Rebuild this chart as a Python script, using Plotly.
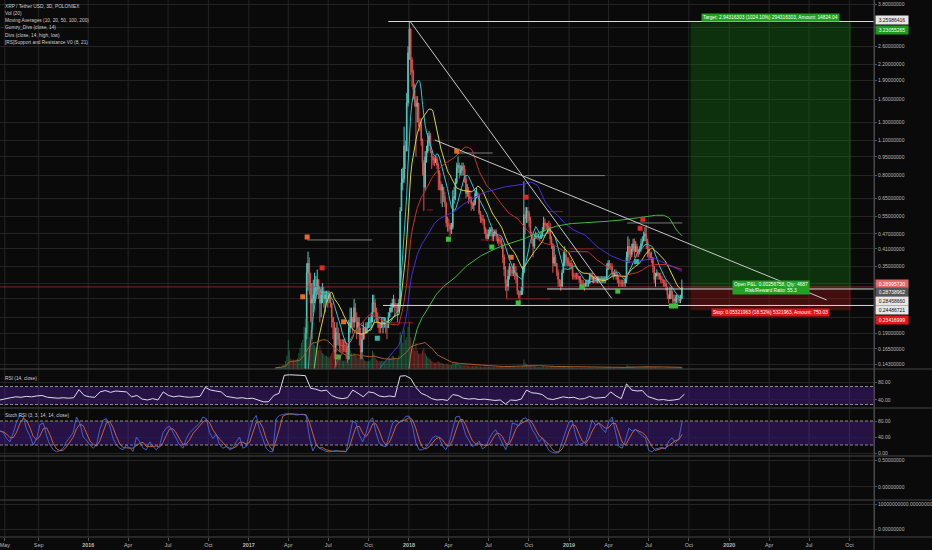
import numpy as np
import pandas as pd
import plotly.graph_objects as go

# ---------------- DATA ----------------
# closes before the visible period (3D bars, only feed the moving averages)
close_early = [0.0085,0.0087,0.0086,0.0083,0.0082,0.0080,0.0079,0.0078,0.0076,0.0075,
 0.0072,0.0070,0.0071,0.0074,0.0075,0.0073,0.0072,0.0070,0.0068,0.0066,
 0.0062,0.0060,0.0061,0.0063,0.0062,0.0060,0.0059,0.0061,0.0063,0.0066,
 0.0070,0.0068,0.0066,0.0065,0.0064,0.0067,0.0066,0.0065,0.0064,0.0064,
 0.0063,0.0062,0.0062,0.0061,0.0062,0.0063,0.0064,0.0064,0.0063,0.0062,
 0.0062,0.0061,0.0061,0.0062,0.0062,0.0063,0.0062,0.0061,0.0061,0.0062,
 0.0064,0.0066,0.0065,0.0070,0.0078,0.0085,0.0089,0.0094,0.0096,0.0090,
 0.0087,0.0085,0.0083,0.0082,0.0081,0.0080,0.0079,0.0078,0.0077,0.0078,
 0.0080,0.0079,0.0078,0.0077,0.0077,0.0076,0.0076,0.0075,0.0074,0.0073,
 0.0072,0.0071,0.0070,0.0068,0.0066,0.0065,0.0065,0.0064,0.0063,0.0064,
 0.0065,0.0066,0.0067,0.0068,0.0069,0.0070,0.0069,0.0068,0.0067,0.0066,
 0.0065,0.0065,0.0064,0.0064,0.0064,0.0063,0.0063,0.0064,0.0064,0.0064,0.0065,0.0066]

first_bar = '2017-03-02'
close = [0.0068,0.0072,0.0081,0.0095,0.0098,0.0105,0.0118,0.0125,0.018,0.026,
 0.055,0.035,0.033,0.032,0.034,0.033,0.035,0.037,0.045,0.058,
 0.065,0.078,0.115,0.19,0.33,0.36,0.30,0.25,0.26,0.27,
 0.28,0.29,0.31,0.28,0.25,0.27,0.28,0.26,0.27,0.27,
 0.26,0.27,0.25,0.22,0.21,0.16,0.19,0.19,0.18,0.17,
 0.17,0.17,0.17,0.17,0.16,0.15,0.20,0.21,0.22,0.21,
 0.24,0.22,0.20,0.21,0.19,0.16,0.18,0.20,0.19,0.20,
 0.20,0.21,0.21,0.22,0.25,0.25,0.23,0.22,0.21,0.20,
 0.20,0.21,0.21,0.21,0.20,0.20,0.22,0.23,0.24,0.25,
 0.25,0.24,0.24,0.24,0.25,0.58,0.75,0.78,1.05,1.00,
 1.55,2.45,3.05,2.30,2.05,1.75,1.60,1.50,1.55,1.30,
 1.28,1.10,0.90,0.72,0.95,1.00,1.10,1.15,1.00,0.95,
 0.92,0.90,0.93,0.88,0.82,0.74,0.70,0.72,0.66,0.62,
 0.52,0.51,0.51,0.49,0.50,0.65,0.66,0.75,0.86,0.88,
 0.82,0.84,0.87,0.85,0.78,0.68,0.70,0.66,0.65,0.62,
 0.61,0.62,0.68,0.68,0.67,0.57,0.54,0.54,0.53,0.49,
 0.47,0.45,0.47,0.48,0.49,0.46,0.47,0.48,0.46,0.45,
 0.44,0.44,0.42,0.38,0.34,0.30,0.29,0.32,0.35,0.33,
 0.33,0.35,0.33,0.32,0.28,0.27,0.27,0.28,0.33,0.56,
 0.54,0.58,0.57,0.53,0.47,0.45,0.42,0.45,0.46,0.46,
 0.46,0.45,0.46,0.48,0.52,0.51,0.51,0.50,0.50,0.45,
 0.43,0.36,0.38,0.36,0.33,0.31,0.30,0.29,0.33,0.36,
 0.39,0.37,0.36,0.36,0.35,0.35,0.32,0.32,0.32,0.32,
 0.32,0.31,0.30,0.30,0.30,0.29,0.30,0.30,0.30,0.32,
 0.32,0.31,0.315,0.31,0.305,0.31,0.315,0.31,0.305,0.31,
 0.315,0.31,0.34,0.36,0.35,0.35,0.33,0.32,0.33,0.32,
 0.31,0.30,0.30,0.30,0.30,0.30,0.31,0.38,0.42,0.39,
 0.39,0.41,0.43,0.40,0.42,0.40,0.40,0.41,0.43,0.44,
 0.46,0.47,0.44,0.41,0.39,0.38,0.38,0.35,0.31,0.32,
 0.33,0.32,0.32,0.31,0.31,0.30,0.30,0.29,0.27,0.26,
 0.28,0.27,0.26,0.255,0.26,0.265,0.26,0.255,0.26,0.2899572]

high = [0.0075,0.0075,0.0085,0.010,0.011,0.011,0.012,0.013,0.02,0.03,
 0.065,0.056,0.038,0.035,0.036,0.035,0.036,0.038,0.046,0.06,
 0.07,0.085,0.12,0.2,0.36,0.40,0.38,0.33,0.30,0.31,
 0.33,0.32,0.34,0.31,0.29,0.29,0.30,0.29,0.28,0.28,
 0.28,0.28,0.27,0.25,0.22,0.21,0.20,0.21,0.20,0.19,
 0.18,0.18,0.18,0.18,0.175,0.17,0.215,0.24,0.24,0.22,
 0.26,0.25,0.23,0.22,0.22,0.20,0.19,0.21,0.20,0.21,
 0.21,0.22,0.22,0.23,0.27,0.27,0.26,0.24,0.23,0.21,
 0.21,0.22,0.22,0.22,0.22,0.21,0.23,0.24,0.25,0.26,
 0.27,0.26,0.25,0.25,0.26,0.60,0.85,0.86,1.25,1.10,
 1.70,2.60,3.25986416,3.00,2.35,2.10,1.85,1.65,1.65,1.55,
 1.35,1.35,1.12,0.92,1.00,1.05,1.18,1.20,1.18,1.00,
 0.96,0.95,0.96,0.95,0.90,0.84,0.76,0.74,0.72,0.69,
 0.63,0.55,0.54,0.52,0.52,0.70,0.72,0.78,0.90,0.95,
 0.90,0.88,0.90,0.90,0.88,0.80,0.74,0.72,0.70,0.66,
 0.63,0.64,0.70,0.72,0.69,0.68,0.58,0.56,0.56,0.54,
 0.50,0.49,0.49,0.50,0.50,0.50,0.48,0.49,0.49,0.47,
 0.46,0.46,0.45,0.43,0.39,0.35,0.31,0.34,0.36,0.35,
 0.34,0.36,0.36,0.35,0.33,0.28,0.28,0.29,0.35,0.76,
 0.60,0.60,0.60,0.58,0.55,0.48,0.46,0.47,0.48,0.47,
 0.47,0.46,0.48,0.50,0.55,0.54,0.52,0.52,0.53,0.52,
 0.46,0.43,0.42,0.39,0.36,0.34,0.31,0.31,0.34,0.40,
 0.42,0.40,0.38,0.38,0.37,0.37,0.36,0.33,0.33,0.33,
 0.33,0.32,0.32,0.31,0.31,0.30,0.31,0.31,0.31,0.33,
 0.33,0.33,0.32,0.32,0.32,0.32,0.32,0.32,0.32,0.32,
 0.32,0.32,0.36,0.37,0.37,0.36,0.36,0.33,0.34,0.34,
 0.33,0.32,0.31,0.31,0.31,0.31,0.32,0.40,0.46,0.45,
 0.42,0.43,0.45,0.45,0.44,0.43,0.41,0.42,0.45,0.46,
 0.48,0.50,0.51,0.45,0.42,0.40,0.40,0.38,0.35,0.33,
 0.34,0.33,0.33,0.33,0.32,0.31,0.31,0.31,0.29,0.27,
 0.29,0.29,0.28,0.27,0.27,0.27,0.27,0.27,0.27,0.31]

low = [0.0062,0.0066,0.0070,0.0080,0.0090,0.0095,0.010,0.011,0.012,0.017,
 0.025,0.030,0.030,0.029,0.031,0.031,0.032,0.034,0.036,0.044,
 0.055,0.062,0.075,0.11,0.18,0.28,0.27,0.21,0.18,0.23,
 0.25,0.26,0.27,0.26,0.21,0.22,0.25,0.24,0.23,0.25,
 0.24,0.25,0.24,0.20,0.18,0.15,0.14,0.17,0.17,0.16,
 0.16,0.16,0.16,0.16,0.15,0.145,0.15,0.19,0.20,0.19,
 0.20,0.21,0.18,0.19,0.17,0.15,0.15,0.18,0.18,0.19,
 0.19,0.20,0.20,0.20,0.21,0.23,0.22,0.21,0.20,0.19,
 0.19,0.20,0.19,0.20,0.19,0.18,0.20,0.22,0.23,0.23,
 0.24,0.22,0.23,0.21,0.23,0.25,0.60,0.70,0.75,0.85,
 1.00,1.50,2.30,2.00,1.80,1.60,1.50,0.95,1.30,1.25,
 1.20,1.05,0.80,0.58,0.70,0.90,0.98,1.05,0.98,0.85,
 0.88,0.87,0.90,0.85,0.70,0.70,0.62,0.60,0.63,0.60,
 0.50,0.48,0.48,0.46,0.47,0.49,0.62,0.64,0.74,0.82,
 0.78,0.80,0.80,0.80,0.75,0.65,0.66,0.62,0.63,0.58,
 0.59,0.58,0.61,0.65,0.66,0.56,0.52,0.52,0.51,0.47,
 0.45,0.44,0.45,0.46,0.46,0.44,0.44,0.46,0.44,0.43,
 0.42,0.43,0.41,0.36,0.32,0.28,0.26,0.28,0.31,0.32,
 0.32,0.32,0.31,0.30,0.27,0.26,0.25,0.27,0.27,0.33,
 0.47,0.52,0.52,0.50,0.46,0.43,0.38,0.41,0.45,0.45,
 0.45,0.44,0.45,0.46,0.48,0.49,0.49,0.47,0.47,0.43,
 0.41,0.33,0.35,0.35,0.32,0.29,0.29,0.28,0.29,0.33,
 0.35,0.35,0.35,0.35,0.34,0.34,0.31,0.31,0.31,0.31,
 0.31,0.30,0.29,0.29,0.29,0.28,0.29,0.29,0.29,0.30,
 0.31,0.30,0.30,0.30,0.30,0.30,0.30,0.30,0.30,0.30,
 0.30,0.30,0.31,0.34,0.34,0.34,0.32,0.31,0.32,0.31,
 0.30,0.29,0.29,0.29,0.29,0.29,0.29,0.30,0.36,0.36,
 0.37,0.38,0.40,0.38,0.40,0.38,0.38,0.39,0.40,0.42,
 0.44,0.44,0.41,0.38,0.37,0.37,0.36,0.33,0.30,0.29,
 0.32,0.31,0.31,0.30,0.30,0.29,0.29,0.28,0.26,0.25,
 0.26,0.26,0.25,0.245,0.245,0.25,0.25,0.25,0.25,0.26]

volume = [0.2,0.2,0.3,0.5,0.4,0.5,0.8,0.7,1.5,2.5,
 5.5,3.5,2.0,1.5,1.8,1.5,1.8,2.0,3.0,4.0,
 5.0,5.5,8.0,9.5,10.0,9.0,6.0,7.5,8.0,5.0,
 4.5,4.0,5.0,3.5,4.5,3.5,3.0,2.8,2.5,2.5,
 2.3,2.2,2.5,3.0,3.5,4.5,4.0,3.0,2.5,2.0,
 1.8,1.6,1.5,1.6,1.8,2.0,4.0,3.5,3.0,2.5,
 3.0,2.6,2.4,2.2,2.5,3.0,2.5,2.0,1.6,1.5,
 1.4,1.5,1.6,2.0,3.5,3.0,2.2,1.8,1.6,1.5,
 1.4,1.5,1.5,1.4,1.6,1.8,2.0,2.2,2.0,2.5,
 2.4,2.0,1.8,2.0,2.5,7.0,6.5,5.0,7.5,5.5,
 6.0,8.0,9.0,6.0,4.5,4.0,3.5,5.0,3.5,3.0,
 2.8,3.0,3.5,4.0,3.0,2.5,2.2,2.0,1.8,1.5,
 1.3,1.2,1.2,1.3,1.4,1.3,1.2,1.1,1.0,0.9,
 1.0,0.9,0.8,0.8,0.8,1.2,1.0,1.1,1.2,1.0,
 0.9,0.8,0.8,0.7,0.7,0.8,0.7,0.6,0.6,0.6,
 0.55,0.55,0.6,0.55,0.5,0.6,0.5,0.45,0.45,0.5,
 0.5,0.5,0.45,0.45,0.4,0.45,0.4,0.4,0.4,0.4,
 0.4,0.4,0.45,0.5,0.55,0.6,0.6,0.5,0.5,0.45,
 0.4,0.45,0.4,0.45,0.5,0.45,0.4,0.4,0.5,1.8,
 1.2,0.9,0.8,0.7,0.7,0.6,0.6,0.5,0.45,0.4,
 0.4,0.4,0.4,0.45,0.5,0.45,0.4,0.4,0.4,0.5,
 0.5,0.6,0.5,0.45,0.45,0.4,0.4,0.4,0.45,0.5,
 0.5,0.45,0.4,0.4,0.4,0.35,0.4,0.35,0.3,0.3,
 0.3,0.3,0.3,0.3,0.3,0.3,0.3,0.3,0.3,0.35,
 0.3,0.3,0.3,0.3,0.3,0.3,0.3,0.3,0.3,0.3,
 0.3,0.3,0.35,0.4,0.35,0.3,0.3,0.3,0.3,0.3,
 0.3,0.3,0.3,0.3,0.3,0.3,0.35,0.6,0.7,0.55,
 0.45,0.45,0.5,0.45,0.4,0.4,0.35,0.35,0.4,0.4,
 0.45,0.5,0.55,0.5,0.45,0.4,0.4,0.4,0.45,0.4,
 0.35,0.3,0.3,0.3,0.3,0.3,0.3,0.3,0.35,0.35,
 0.3,0.3,0.3,0.3,0.3,0.3,0.3,0.3,0.3,0.4]

# RSI (14, close), sampled every 12 days from the left edge
rsi_start = '2015-06-14'
rsi = [40,43,45,47,46,48,47,49,50,46,
 45,44,45,44,45,63,50,47,46,58,
 61,57,60,59,58,47,50,42,40,43,
 40,58,50,47,49,47,46,47,48,68,
 62,60,58,48,46,44,45,43,44,40,
 36,36,50,55,95,96,96,95,94,66,
 64,60,62,50,45,43,45,62,55,47,
 58,56,49,47,49,47,93,94,88,68,
 55,50,43,40,41,39,52,50,44,42,
 43,41,42,40,39,40,31,40,39,42,
 62,56,55,52,43,41,44,47,45,46,
 42,43,48,44,45,46,58,49,43,76,
 62,60,61,48,44,40,41,39,40,42,
 53]

# Stoch RSI %K, sampled every 182 hours from the left edge
stoch_k = [55,51,36,28,51,78,94,90,59,43,
 20,36,71,75,43,20,8,3,6,12,
 28,40,51,90,75,40,32,20,12,20,
 59,82,86,67,36,20,12,8,20,12,
 4,40,28,12,8,28,16,8,20,51,
 63,67,51,32,20,12,36,51,59,67,
 75,90,86,51,36,47,20,12,16,8,
 12,28,40,12,16,51,82,94,59,36,
 12,4,3,86,94,96,98,98,98,95,
 96,97,94,40,5,20,12,8,4,3,
 5,6,4,4,3,40,80,75,45,28,
 50,80,88,51,25,18,16,45,75,82,
 76,82,92,92,65,25,8,8,14,25,
 38,43,38,18,8,25,60,90,92,72,
 45,30,16,22,30,10,16,35,50,58,
 40,24,8,30,75,72,68,85,88,78,
 58,45,28,38,20,6,2,0,4,28,
 55,78,80,45,20,24,28,55,82,70,
 74,60,51,80,90,52,16,12,32,62,
 55,59,51,43,38,6,3,10,12,14,
 10,30,38,26,35,78]

ma_periods = [10, 20, 50, 100, 200]
ma_colors = ['#35c4cf', '#d9d33c', '#c8302c', '#4a2fd8', '#3fba3f']

# long position tool
entry_price = 0.28738962
target_price = 3.23055265
stop_price = 0.23416999
pos_start, pos_end, pos_mid = '2019-10-05', '2020-10-05', '2020-04-05'

# horizontal levels drawn on chart (price, start date) extending to the right edge
hlines_white = [(3.25986416, '2017-11-15'), (0.28458660, '2018-11-12'), (0.24486721, '2017-11-03')]
# trend lines (date, price) pairs
trend1 = (['2018-01-04', '2019-04-08'], [3.25986416, 0.2615])
trend2 = (['2018-03-01', '2020-08-10'], [1.107, 0.2575])
# grey short levels
grey_levels = [(0.80, '2018-09-23', '2019-03-24'), (0.445, '2017-05-14', '2017-10-09'),
               (0.983, '2018-04-20', '2018-07-11'), (0.5195, '2019-05-13', '2019-09-16')]
# red support / resistance steps
red_levels = [(0.585, '2018-02-11', '2018-02-25'), (0.445, '2018-06-14', '2018-07-13'),
              (0.576, '2018-11-12', '2018-12-18'), (0.41, '2019-01-03', '2019-02-25'),
              (0.26, '2018-08-09', '2018-11-19'), (0.209, '2017-11-20', '2018-01-11')]

# divergence markers
orange_dates = ['2017-05-14', '2017-05-04', '2017-08-05', '2018-04-20', '2018-08-22']
orange_prices = [0.457, 0.265, 0.211, 1.00, 0.38]
red_dates = ['2017-06-17', '2018-09-25', '2019-06-12', '2019-06-18']
red_prices = [0.345, 0.657, 0.495, 0.537]
green_dates = ['2017-07-24', '2018-04-01', '2018-07-09', '2018-09-07', '2019-01-30', '2019-04-22', '2019-08-22', '2019-09-01']
green_prices = [0.153, 0.448, 0.417, 0.2506, 0.2906, 0.279, 0.2437, 0.2437]
teal_dates = ['2017-10-21', '2019-06-04']
teal_prices = [0.1816, 0.365]

price_ticks = [3.8, 3.1, 2.6, 2.2, 1.9, 1.6, 1.3, 1.1, 0.95, 0.8, 0.65, 0.55, 0.47, 0.41, 0.35, 0.30, 0.26, 0.22, 0.19, 0.165, 0.143]
hidden_ticks = [3.1, 0.30, 0.26, 0.22]
x_tickvals = ['2015-06-25', '2015-09-10', '2016-01-01', '2016-04-01', '2016-07-01', '2016-10-01',
              '2017-01-01', '2017-04-01', '2017-07-01', '2017-10-01', '2018-01-01', '2018-04-01',
              '2018-07-01', '2018-10-01', '2019-01-01', '2019-04-01', '2019-07-01', '2019-10-01',
              '2020-01-01', '2020-04-01', '2020-07-01', '2020-10-01']
x_ticktext = ['May', 'Sep', '<b>2016</b>', 'Apr', 'Jul', 'Oct', '<b>2017</b>', 'Apr', 'Jul', 'Oct',
              '<b>2018</b>', 'Apr', 'Jul', 'Oct', '<b>2019</b>', 'Apr', 'Jul', 'Oct', '<b>2020</b>', 'Apr', 'Jul', 'Oct']
legend_lines = ['XRP / Tether USD, 3D, POLONIEX', 'Vol (20)', 'Moving Averages (10, 20, 50, 100, 200)',
                'Gumzy_Divs (close, 14)', 'Divs (close, 14, high, low)', '[RS]Support and Resistance V0 (8, 21)']

# ---------------- BUILD ----------------
W, H = 932, 550
BG = '#0a0a0a'
GRID = '#242424'
TXT = '#b9b9b9'
FONT = 'Liberation Sans, Arial, sans-serif'
x_left, x_right = '2015-06-14', '2020-11-26'

main_dates = pd.date_range(first_bar, periods=len(close), freq='3D')
early_dates = pd.date_range(end=main_dates[0] - pd.Timedelta(days=3), periods=len(close_early), freq='3D')
opens = np.array([close_early[-1]] + close[:-1])
c = np.array(close)
h = np.maximum.reduce([np.array(high), opens, c])
l = np.minimum.reduce([np.array(low), opens, c])
all_dates = early_dates.append(main_dates)
all_close = pd.Series(close_early + close)

px = lambda v: 1 - v / H  # pixel row -> paper
dom_main = [px(369), 1]
dom_rsi = [px(408), px(369)]
dom_sto = [px(456), px(408)]
dom_p4 = [px(500), px(456)]
dom_p5 = [px(537), px(500)]
xr = 874 / W

fig = go.Figure()

# volume
up = c >= opens
vcol = np.where(up, 'rgba(38,166,110,0.5)', 'rgba(220,60,60,0.5)')
fig.add_trace(go.Bar(x=main_dates, y=volume, marker=dict(color=vcol, line=dict(width=0)),
                     width=3 * 86400000 * 0.8, yaxis='y6', hoverinfo='skip'))
fig.add_trace(go.Scatter(x=main_dates, y=pd.Series(volume).rolling(20, min_periods=1).mean(),
                         mode='lines', line=dict(color='#a8602a', width=1), yaxis='y6', hoverinfo='skip'))

# position boxes
fig.add_trace(go.Scatter(x=[pos_start, pos_end, pos_end, pos_start, pos_start],
                         y=[entry_price, entry_price, target_price, target_price, entry_price],
                         fill='toself', fillcolor='rgba(20,130,20,0.33)', line=dict(width=0),
                         mode='lines', hoverinfo='skip'))
fig.add_trace(go.Scatter(x=[pos_start, pos_end, pos_end, pos_start, pos_start],
                         y=[stop_price, stop_price, entry_price, entry_price, stop_price],
                         fill='toself', fillcolor='rgba(160,20,20,0.38)', line=dict(width=0),
                         mode='lines', hoverinfo='skip'))

# price line (last close)
fig.add_trace(go.Scatter(x=[x_left, x_right], y=[close[-1], close[-1]], mode='lines',
                         line=dict(color='rgba(200,60,60,0.6)', width=1), hoverinfo='skip'))

# S/R steps
for lv, d0, d1 in red_levels:
    fig.add_trace(go.Scatter(x=[d0, d1], y=[lv, lv], mode='lines',
                             line=dict(color='#8e1c1c', width=1), hoverinfo='skip'))
for lv, d0, d1 in grey_levels:
    fig.add_trace(go.Scatter(x=[d0, d1], y=[lv, lv], mode='lines',
                             line=dict(color='#7a7a7a', width=1), hoverinfo='skip'))

# moving averages
for p, col in zip(ma_periods, ma_colors):
    fig.add_trace(go.Scatter(x=all_dates, y=all_close.rolling(p).mean(), mode='lines',
                             line=dict(color=col, width=1), hoverinfo='skip'))

# candles
fig.add_trace(go.Candlestick(x=main_dates, open=opens, high=h, low=l, close=c,
                             increasing=dict(line=dict(color='#52c9c1', width=1), fillcolor='#52c9c1'),
                             decreasing=dict(line=dict(color='#e0504d', width=1), fillcolor='#e0504d'),
                             whiskerwidth=0, hoverinfo='skip'))

# drawn lines
for lv, d0 in hlines_white:
    fig.add_trace(go.Scatter(x=[d0, x_right], y=[lv, lv], mode='lines',
                             line=dict(color='#d8d8d8', width=1), hoverinfo='skip'))
for tl in (trend1, trend2):
    fig.add_trace(go.Scatter(x=tl[0], y=tl[1], mode='lines',
                             line=dict(color='#c8c8c8', width=1), hoverinfo='skip'))

# markers
for ds, ps, col in [(orange_dates, orange_prices, '#e8692a'), (red_dates, red_prices, '#e02828'),
                    (green_dates, green_prices, '#3cbf3c'), (teal_dates, teal_prices, '#2fb5a0')]:
    fig.add_trace(go.Scatter(x=ds, y=ps, mode='markers',
                             marker=dict(symbol='square', size=5, color=col, line=dict(width=0)),
                             hoverinfo='skip'))

# RSI
rsi_dates = pd.date_range(rsi_start, periods=len(rsi), freq='12D')
fig.add_trace(go.Scatter(x=rsi_dates, y=rsi, mode='lines', line=dict(color='#dcdcec', width=1),
                         yaxis='y2', hoverinfo='skip'))
# Stoch RSI
sto_dates = pd.date_range(rsi_start, periods=len(stoch_k), freq='182h')
stoch_d = pd.Series(stoch_k).rolling(3, min_periods=1).mean()
fig.add_trace(go.Scatter(x=sto_dates, y=stoch_d, mode='lines', line=dict(color='rgba(230,110,50,0.85)', width=1),
                         yaxis='y3', hoverinfo='skip'))
fig.add_trace(go.Scatter(x=sto_dates, y=stoch_k, mode='lines', line=dict(color='rgba(70,110,230,0.85)', width=1),
                         yaxis='y3', hoverinfo='skip'))
# empty panes
fig.add_trace(go.Scatter(x=[x_left], y=[0], mode='markers', marker=dict(opacity=0), yaxis='y4', hoverinfo='skip'))
fig.add_trace(go.Scatter(x=[x_left], y=[0], mode='markers', marker=dict(opacity=0), yaxis='y5', hoverinfo='skip'))

tickfont = dict(size=5.0, color=TXT, family=FONT)
yax_common = dict(side='right', anchor='x', showgrid=True, gridcolor=GRID, gridwidth=1, zeroline=False,
                  showline=True, linecolor='#4a4a4a', linewidth=1, ticks='outside', ticklen=2,
                  tickcolor='#555555', tickfont=tickfont, automargin=False, fixedrange=True,
                  ticklabeloverflow='allow')

def ptxt(v):
    return '' if v in hidden_ticks else f'{v:.8f}'

layout_shapes = []
for tv in x_tickvals:
    layout_shapes.append(dict(type='line', xref='x', yref='paper', x0=tv, x1=tv, y0=dom_p5[0], y1=1,
                              line=dict(color=GRID, width=1), layer='below'))
layout_shapes += [
    dict(type='rect', xref='paper', yref='y2', x0=0, x1=xr, y0=30, y1=70, fillcolor='rgba(110,40,210,0.30)',
         line=dict(width=0), layer='below'),
    dict(type='rect', xref='paper', yref='y3', x0=0, x1=xr, y0=20, y1=80, fillcolor='rgba(110,40,210,0.30)',
         line=dict(width=0), layer='below'),
]
for yref, v in [('y2', 70), ('y2', 30), ('y3', 80), ('y3', 20)]:
    layout_shapes.append(dict(type='line', xref='paper', yref=yref, x0=0, x1=xr, y0=v, y1=v,
                              line=dict(color='#8c8c8c', width=1, dash='3px,2px')))
for row in [369, 408, 456, 500, 537]:
    layout_shapes.append(dict(type='line', xref='paper', yref='paper', x0=0, x1=1, y0=px(row), y1=px(row),
                              line=dict(color='#474747', width=1)))
layout_shapes.append(dict(type='line', xref='paper', yref='paper', x0=xr, x1=xr, y0=0, y1=1,
                          line=dict(color='#474747', width=1)))

ann = []
for i, t in enumerate(legend_lines):
    ann.append(dict(text=t, xref='paper', yref='paper', x=3 / W, y=px(6.7 + 7.1 * i), xanchor='left',
                    yanchor='middle', showarrow=False, font=dict(size=4.8, color='#cfcfcf', family=FONT)))
ann.append(dict(text='RSI (14, close)', xref='paper', yref='paper', x=3 / W, y=px(378), xanchor='left',
                yanchor='middle', showarrow=False, font=dict(size=4.8, color='#cfcfcf', family=FONT)))
ann.append(dict(text='Stoch RSI (3, 3, 14, 14, close)', xref='paper', yref='paper', x=3 / W, y=px(415.5),
                xanchor='left', yanchor='middle', showarrow=False, font=dict(size=4.8, color='#cfcfcf', family=FONT)))

axis_labels = [(3.25986416, '#e6e6e6', '#111111', 1.4), (target_price, '#1e9a1e', '#ffffff', -7.5),
               (close[-1], '#e46a6a', '#ffffff', 3), (entry_price, '#555555', '#ffffff', -4),
               (0.28458660, '#e6e6e6', '#111111', -12), (0.24486721, '#e6e6e6', '#111111', -4.5),
               (stop_price, '#e41818', '#ffffff', -9.6)]
for v, bg, fg, sh in axis_labels:
    ann.append(dict(text=f'{v:.8f}', xref='paper', yref='y', x=875 / W, y=np.log10(v), yshift=sh,
                    xanchor='left', yanchor='middle', showarrow=False, bgcolor=bg, width=32, height=8,
                    borderpad=0, font=dict(size=5.0, color=fg, family=FONT)))

pnl = close[-1] - entry_price
ann.append(dict(text=f'Target: {target_price - entry_price:.8f} ({(target_price - entry_price) / entry_price * 100:.2f}%) '
                     f'{round((target_price - entry_price) * 1e8)}, Amount: 14824.04',
                x=pos_mid, y=np.log10(target_price), yshift=5.5, xref='x', yref='y', showarrow=False,
                bgcolor='#1f9f1f', borderpad=1, font=dict(size=4.8, color='#ffffff', family=FONT)))
ann.append(dict(text=f'Open P&L: {pnl:.8f}, Qty: 4687<br>Risk/Reward Ratio: 55.3',
                x=pos_mid, y=np.log10(entry_price), yshift=0, xref='x', yref='y', showarrow=False,
                bgcolor='#22a222', borderpad=1, font=dict(size=4.8, color='#ffffff', family=FONT)))
ann.append(dict(text=f'Stop: {entry_price - stop_price:.8f} ({(entry_price - stop_price) / entry_price * 100:.2f}%) '
                     f'{round((entry_price - stop_price) * 1e8)}, Amount: 750.03',
                x=pos_mid, y=np.log10(stop_price), yshift=-2, xref='x', yref='y', showarrow=False,
                bgcolor='#e01414', borderpad=1, font=dict(size=4.8, color='#ffffff', family=FONT)))

fig.update_layout(
    width=W, height=H, margin=dict(l=0, r=0, t=0, b=0), paper_bgcolor=BG, plot_bgcolor=BG,
    showlegend=False, hovermode=False, font=dict(family=FONT, color=TXT),
    xaxis=dict(domain=[0, xr], anchor='y5', type='date', range=[x_left, x_right], tickvals=x_tickvals,
               ticktext=x_ticktext, showgrid=False, zeroline=False, ticks='outside', ticklen=3,
               tickcolor='#555555', tickfont=dict(size=5.4, color=TXT, family=FONT),
               ticklabeloverflow='allow',
               rangeslider=dict(visible=False), automargin=False, fixedrange=True),
    yaxis=dict(domain=dom_main, type='log', range=[np.log10(0.1372), np.log10(3.966)],
               tickvals=price_ticks, ticktext=[ptxt(v) for v in price_ticks], **yax_common),
    yaxis2=dict(domain=dom_rsi, range=[22.2, 108.9], tickvals=[40, 80], ticktext=['40.00', '80.00'], **yax_common),
    yaxis3=dict(domain=dom_sto, range=[-7.5, 112.5], tickvals=[0, 40, 80], ticktext=['0.00', '40.00', '80.00'],
                **yax_common),
    yaxis4=dict(domain=dom_p4, range=[-0.241, 0.574], tickvals=[0, 0.5], ticktext=['0.00000000', '0.50000000'],
                **yax_common),
    yaxis5=dict(domain=dom_p5, range=[-3.2e9, 1.16e10], tickvals=[0, 1e10],
                ticktext=['0.00000000', '10000000000.00000000'], **yax_common),
    yaxis6=dict(overlaying='y', range=[0, 70], visible=False, fixedrange=True),
    shapes=layout_shapes, annotations=ann,
)

fig.write_html('out.html', config={'displayModeBar': False, 'staticPlot': True},
               post_script="document.body.style.margin='0px';document.body.style.background='#0a0a0a';")
